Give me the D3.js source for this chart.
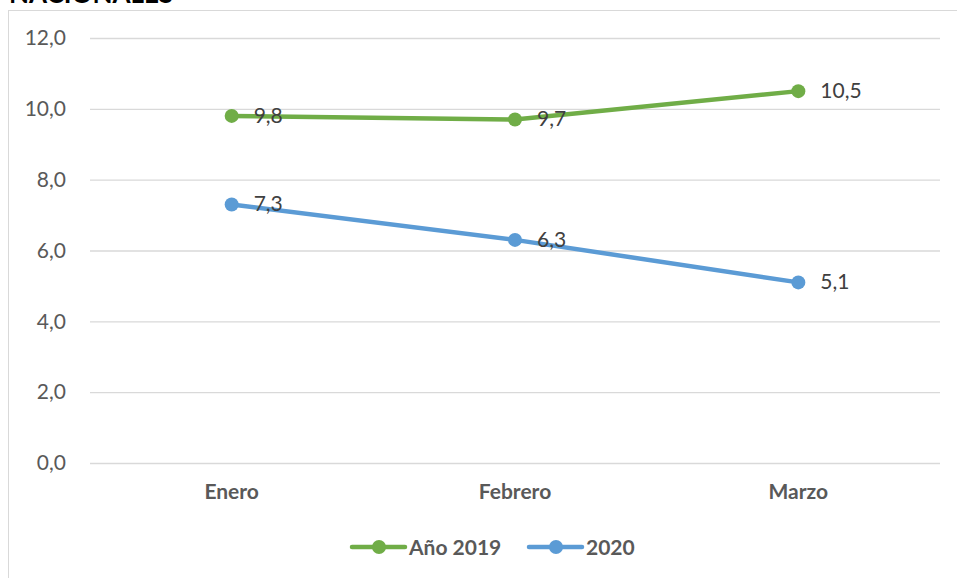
<!DOCTYPE html>
<html>
<head>
<meta charset="utf-8">
<script src="https://cdn.jsdelivr.net/npm/d3@7"></script>
<style>
  body { margin: 0; background: #fff; }
  svg { display: block; font-family: Lato, "Open Sans", sans-serif; }
</style>
</head>
<body>
<div id="chart"></div>
<script>
// data
const months = ['Enero', 'Febrero', 'Marzo'];
const values2019 = [9.8, 9.7, 10.5];
const values2020 = [7.3, 6.3, 5.1];
const seriesNames = ['Año 2019', '2020'];
const seriesColors = ['#70AD47', '#5B9BD5'];
const yTicks = [0, 2, 4, 6, 8, 10, 12];

const W = 957, H = 578;
const margin = { top: 38, right: 17, bottom: 115, left: 90 };
const FS = 21;

const fmt = v => d3.format('.1f')(v).replace('.', ',');

const svg = d3.select('#chart').append('svg')
    .attr('width', W)
    .attr('height', H);

// title, cut off at the top like in the source
svg.append('text')
    .attr('x', 9)
    .attr('y', 3)
    .attr('font-size', 26)
    .attr('font-weight', 'bold')
    .attr('fill', '#000')
    .text('NACIONALES');

// chart area border
svg.append('rect')
    .attr('x', 8.5)
    .attr('y', 10.5)
    .attr('width', W)
    .attr('height', H)
    .attr('fill', 'none')
    .attr('stroke', '#d9d9d9')
    .attr('stroke-width', 1);

const x = d3.scaleBand()
    .domain(months)
    .range([margin.left, W - margin.right]);

const y = d3.scaleLinear()
    .domain([0, 12])
    .range([H - margin.bottom, margin.top]);

// gridlines + y labels
const yAxis = svg.append('g')
    .attr('transform', 'translate(' + margin.left + ',0)')
    .call(d3.axisLeft(y)
        .tickValues(yTicks)
        .tickSize(-(W - margin.right - margin.left))
        .tickPadding(24)
        .tickFormat(fmt));
yAxis.select('.domain').remove();
yAxis.selectAll('.tick line').attr('stroke', '#d9d9d9').attr('stroke-width', 1.3);
yAxis.selectAll('.tick text')
    .attr('fill', '#595959')
    .attr('font-size', FS)
    .attr('font-family', 'Lato, sans-serif');

// x labels
const xAxis = svg.append('g')
    .attr('transform', 'translate(0,' + (H - margin.bottom) + ')')
    .call(d3.axisBottom(x).tickSize(0).tickPadding(21));
xAxis.select('.domain').remove();
xAxis.selectAll('.tick text')
    .attr('fill', '#595959')
    .attr('font-size', FS)
    .attr('font-weight', 'bold')
    .attr('font-family', 'Lato, sans-serif');

const series = [values2019, values2020];
const cx = m => x(m) + x.bandwidth() / 2;

const line = d3.line()
    .x((d, i) => cx(months[i]))
    .y(d => y(d));

series.forEach((vals, si) => {
    const g = svg.append('g');
    g.append('path')
        .datum(vals)
        .attr('d', line)
        .attr('fill', 'none')
        .attr('stroke', seriesColors[si])
        .attr('stroke-width', 4.5)
        .attr('stroke-linecap', 'round');
    g.selectAll('circle')
        .data(vals)
        .enter().append('circle')
        .attr('cx', (d, i) => cx(months[i]))
        .attr('cy', d => y(d))
        .attr('r', 7)
        .attr('fill', seriesColors[si]);
    g.selectAll('text')
        .data(vals)
        .enter().append('text')
        .attr('x', (d, i) => cx(months[i]) + 22)
        .attr('y', d => y(d) + 7)
        .attr('font-size', FS)
        .attr('fill', '#404040')
        .text(d => fmt(d));
});

// legend
const legend = svg.append('g').attr('transform', 'translate(0,547)');
const legendX = [352, 529];
seriesNames.forEach((name, i) => {
    const lg = legend.append('g').attr('transform', 'translate(' + legendX[i] + ',0)');
    lg.append('line')
        .attr('x1', 0).attr('x2', 53)
        .attr('stroke', seriesColors[i])
        .attr('stroke-width', 4.5)
        .attr('stroke-linecap', 'round');
    lg.append('circle')
        .attr('cx', 27).attr('r', 7)
        .attr('fill', seriesColors[i]);
    lg.append('text')
        .attr('x', 57)
        .attr('y', 8)
        .attr('font-size', FS)
        .attr('font-weight', 'bold')
        .attr('fill', '#595959')
        .text(name);
});
</script>
</body>
</html>
